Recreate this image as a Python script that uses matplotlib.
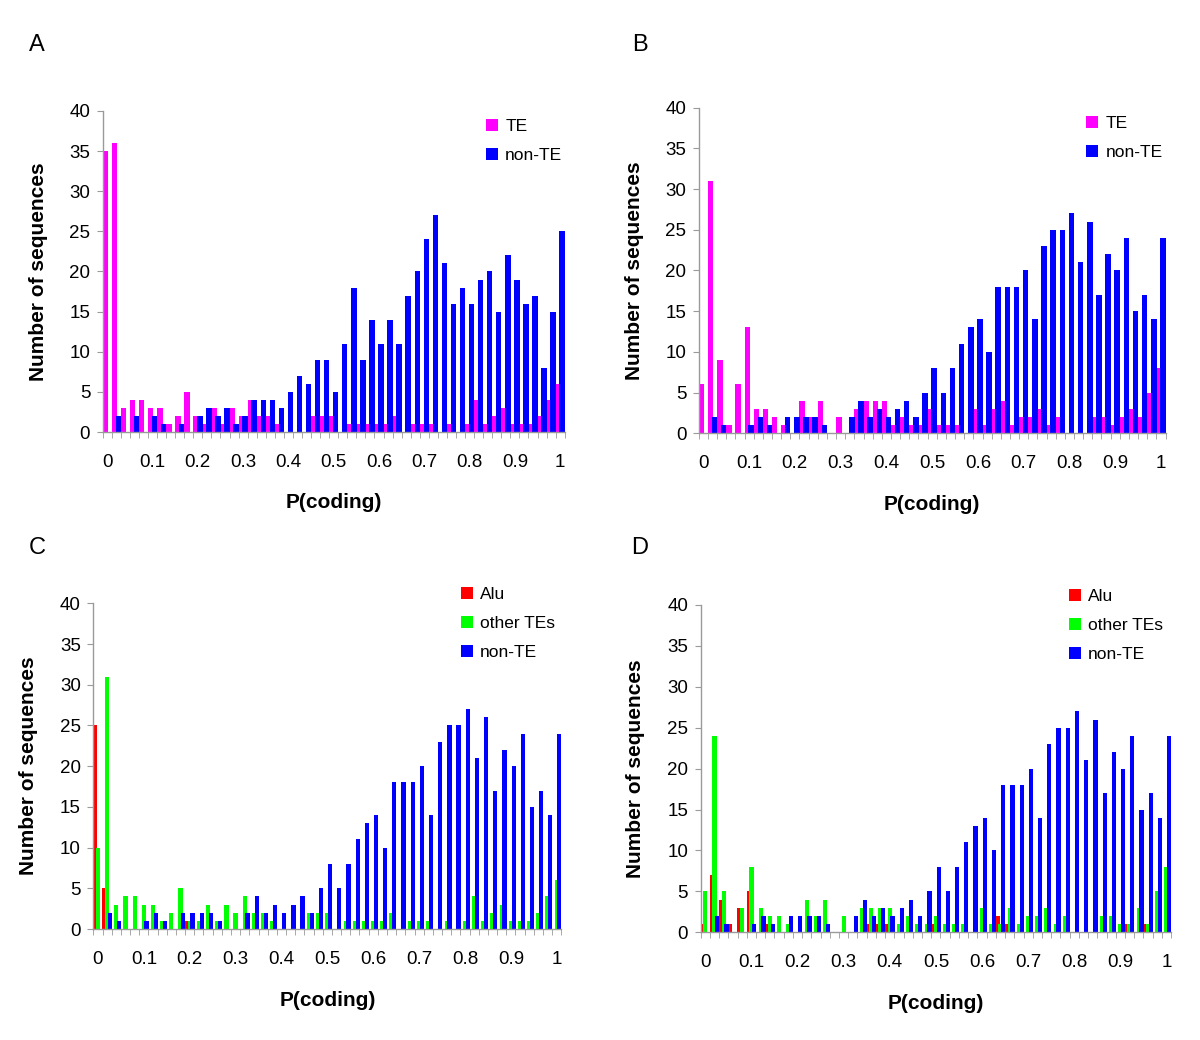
import numpy as np
import matplotlib.pyplot as plt

plt.rcParams["font.family"] = ["Liberation Sans", "DejaVu Sans"]

# P(coding) 分箱: 0, 0.02, ..., 1.0 共51个
n_bins = 51
tick_pos = [0, 5, 10, 15, 20, 25, 30, 35, 40, 45, 50]
tick_labels = ["0", "0.1", "0.2", "0.3", "0.4", "0.5", "0.6", "0.7", "0.8", "0.9", "1"]

# A
a_te = [35, 36, 3, 4, 4, 3, 3, 1, 2, 5,
        2, 1, 3, 1, 3, 2, 4, 2, 2, 1,
        0, 0, 0, 2, 2, 2, 0, 1, 1, 1,
        1, 1, 2, 0, 1, 1, 1, 0, 1, 0,
        1, 4, 1, 2, 3, 1, 1, 1, 2, 4, 6]
a_non_te = [0, 2, 0, 2, 0, 2, 1, 0, 1, 0,
            2, 3, 2, 3, 1, 2, 4, 4, 4, 3,
            5, 7, 6, 9, 9, 5, 11, 18, 9, 14,
            11, 14, 11, 17, 20, 24, 27, 21, 16, 18,
            16, 19, 20, 15, 22, 19, 16, 17, 8, 15, 25]

# B
b_te = [6, 31, 9, 1, 6, 13, 3, 3, 2, 1,
        0, 4, 2, 4, 0, 2, 0, 3, 4, 4,
        4, 1, 2, 1, 1, 3, 1, 1, 1, 0,
        3, 1, 3, 4, 1, 2, 2, 3, 1, 2,
        0, 0, 0, 2, 2, 1, 2, 3, 2, 5, 8]
b_non_te = [0, 2, 1, 0, 0, 1, 2, 1, 0, 2,
            2, 2, 2, 1, 0, 0, 2, 4, 2, 3,
            2, 3, 4, 2, 5, 8, 5, 8, 11, 13,
            14, 10, 18, 18, 18, 20, 14, 23, 25, 25,
            27, 21, 26, 17, 22, 20, 24, 15, 17, 14, 24]

# C
c_alu = [25, 5, 0, 0, 0, 0, 0, 0, 0, 0,
         1, 0, 0, 0, 0, 0, 0, 0, 0, 0,
         0, 0, 0, 0, 0, 0, 0, 0, 0, 0,
         0, 0, 0, 0, 0, 0, 0, 0, 0, 0,
         0, 0, 0, 0, 0, 0, 0, 0, 0, 0, 0]
c_other = [10, 31, 3, 4, 4, 3, 3, 1, 2, 5,
           1, 1, 3, 1, 3, 2, 4, 2, 2, 1,
           0, 0, 0, 2, 2, 2, 0, 1, 1, 1,
           1, 1, 2, 0, 1, 1, 1, 0, 1, 0,
           1, 4, 1, 2, 3, 1, 1, 1, 2, 4, 6]
c_non_te = [0, 2, 1, 0, 0, 1, 2, 1, 0, 2,
            2, 2, 2, 1, 0, 0, 2, 4, 2, 3,
            2, 3, 4, 2, 5, 8, 5, 8, 11, 13,
            14, 10, 18, 18, 18, 20, 14, 23, 25, 25,
            27, 21, 26, 17, 22, 20, 24, 15, 17, 14, 24]

# D
d_alu = [1, 7, 4, 1, 3, 5, 0, 1, 0, 0,
         0, 0, 0, 0, 0, 0, 0, 0, 1, 1,
         1, 0, 0, 0, 0, 1, 0, 0, 0, 0,
         0, 0, 2, 1, 0, 0, 0, 0, 0, 0,
         0, 0, 0, 0, 0, 0, 1, 0, 1, 0, 0]
d_other = [5, 24, 5, 0, 3, 8, 3, 2, 2, 1,
           0, 4, 2, 4, 0, 2, 0, 3, 3, 3,
           3, 1, 2, 1, 1, 2, 1, 1, 1, 0,
           3, 1, 1, 3, 1, 2, 2, 3, 1, 2,
           0, 0, 0, 2, 2, 1, 1, 3, 1, 5, 8]
d_non_te = [0, 2, 1, 0, 0, 1, 2, 1, 0, 2,
            2, 2, 2, 1, 0, 0, 2, 4, 2, 3,
            2, 3, 4, 2, 5, 8, 5, 8, 11, 13,
            14, 10, 18, 18, 18, 20, 14, 23, 25, 25,
            27, 21, 26, 17, 22, 20, 24, 15, 17, 14, 24]

PINK, BLUE, RED, GREEN = "#ff00ff", "#0000ff", "#ff0000", "#00ff00"
GRAY = "#9a9a9a"


def draw_panel(ax, series, offsets, width, legend_xy):
    """Excel风格的分组柱状图"""
    x = np.arange(n_bins)
    for (vals, color, label), off in zip(series, offsets):
        ax.bar(x + off, vals, width=width, color=color, linewidth=0, label=label)

    ax.set_xlim(-0.5, n_bins - 0.5)
    ax.set_ylim(0, 40)
    ax.set_yticks(range(0, 41, 5))
    ax.set_xticks(tick_pos)
    ax.set_xticklabels(tick_labels)
    ax.set_xticks(np.arange(-0.5, n_bins, 1), minor=True)

    for s in ["top", "right"]:
        ax.spines[s].set_visible(False)
    for s in ["left", "bottom"]:
        ax.spines[s].set_color(GRAY)
        ax.spines[s].set_linewidth(1)

    ax.tick_params(axis="y", length=4, color=GRAY, pad=5, labelsize=13.5)
    ax.tick_params(axis="x", which="major", length=0, pad=16, labelsize=13.5)
    ax.tick_params(axis="x", which="minor", length=4, color=GRAY)

    ax.set_ylabel("Number of sequences", fontsize=15, fontweight="bold")
    ax.set_xlabel("P(coding)", fontsize=15, fontweight="bold")
    ax.yaxis.set_label_coords(-0.118, 0.5)
    ax.xaxis.set_label_coords(0.5, -0.19)

    ax.legend(loc="upper left", bbox_to_anchor=legend_xy, frameon=False,
              fontsize=12.5, handlelength=0.7, handleheight=0.7,
              handletextpad=0.4, labelspacing=0.8, borderpad=0,
              borderaxespad=0)


fig = plt.figure(figsize=(12, 10.4), dpi=100)

ax_a = fig.add_axes([0.0856, 0.5846, 0.385, 0.3087])
ax_b = fig.add_axes([0.5823, 0.5834, 0.389, 0.3131])
ax_c = fig.add_axes([0.0778, 0.1067, 0.390, 0.3132])
ax_d = fig.add_axes([0.5839, 0.1036, 0.392, 0.3147])

two_off = [-0.2, 0.22]
three_off = [-0.3, 0.0, 0.3]

draw_panel(ax_a, [(a_te, PINK, "TE"), (a_non_te, BLUE, "non-TE")],
           two_off, 0.6, (0.83, 0.975))
draw_panel(ax_b, [(b_te, PINK, "TE"), (b_non_te, BLUE, "non-TE")],
           two_off, 0.6, (0.83, 0.975))
draw_panel(ax_c, [(c_alu, RED, "Alu"), (c_other, GREEN, "other TEs"),
                  (c_non_te, BLUE, "non-TE")],
           three_off, 0.46, (0.785, 1.05))
draw_panel(ax_d, [(d_alu, RED, "Alu"), (d_other, GREEN, "other TEs"),
                  (d_non_te, BLUE, "non-TE")],
           three_off, 0.46, (0.783, 1.05))

for letter, (fx, fy) in zip("ABCD", [(37, 45), (640, 45), (37, 548), (640, 548)]):
    fig.text(fx / 1200, 1 - fy / 1040, letter, fontsize=17,
             ha="center", va="center")

fig.savefig("out.png", dpi=100)
